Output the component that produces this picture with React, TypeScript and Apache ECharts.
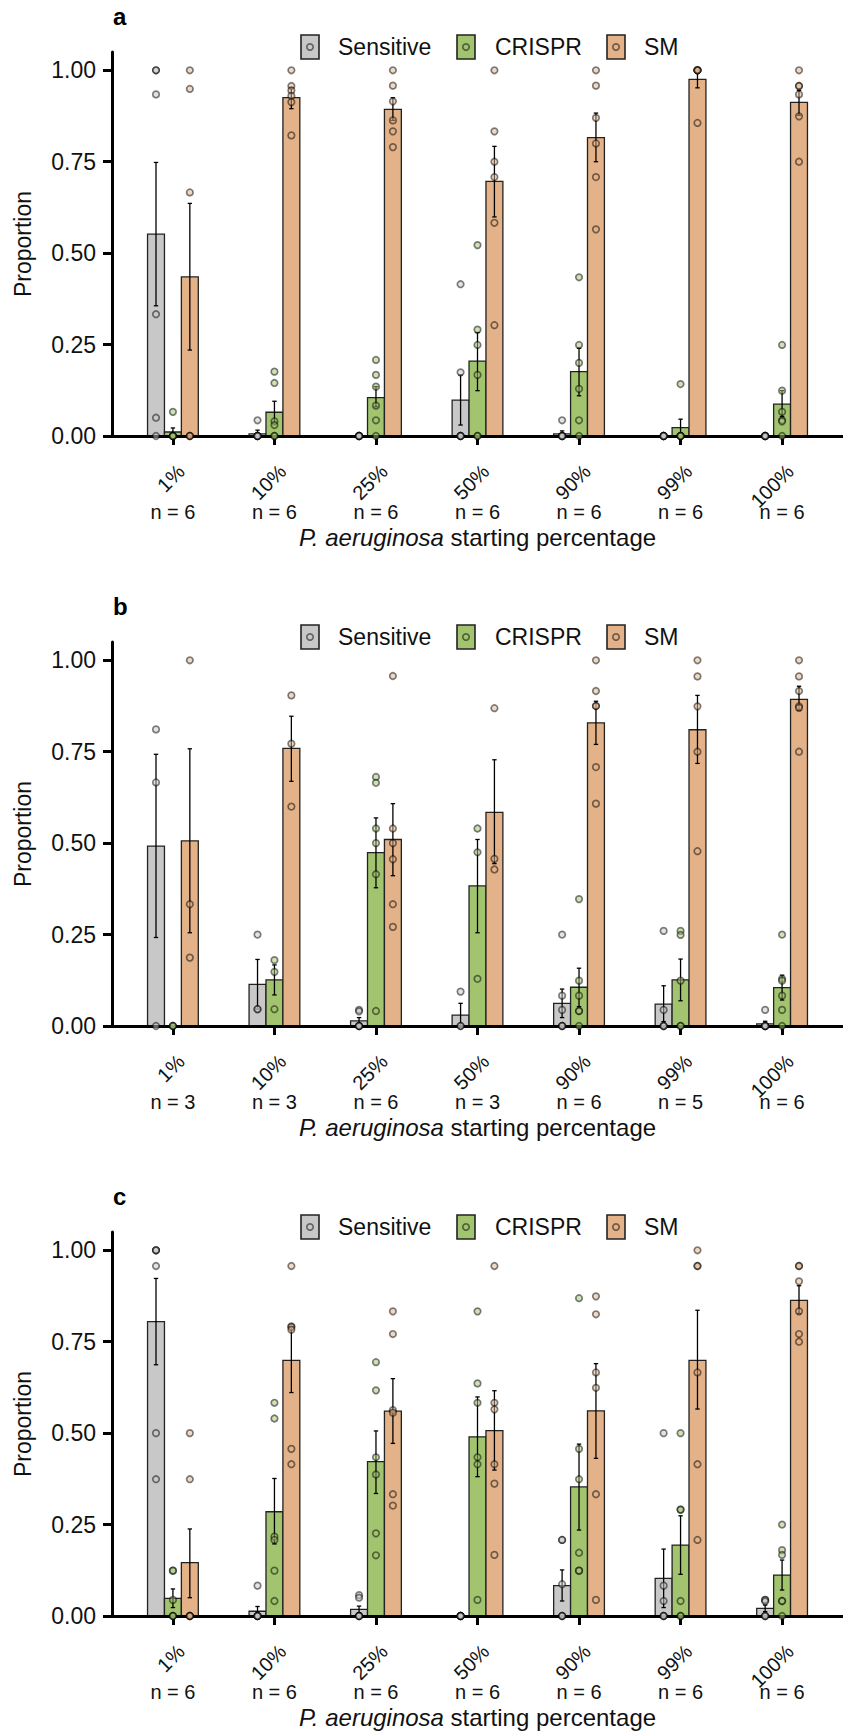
import React, { useEffect, useRef } from 'react';
import * as echarts from 'echarts';

// ---- categories and labels ----
const categories = ['1%', '10%', '25%', '50%', '90%', '99%', '100%'];
const phenotypes = ['Sensitive', 'CRISPR', 'SM'];
const phenotypeColors = ['#C8C8C8', '#A2C46F', '#E3B288'];
const panelLetters = ['a', 'b', 'c'];
const yTickValues = [0, 0.25, 0.5, 0.75, 1];

// ---- panel a ----
const sampleSizeA = [6, 6, 6, 6, 6, 6, 6];
const sensitiveMeanA = [0.552, 0.006, 0, 0.098, 0.006, 0, 0];
const sensitiveLowA = [0.356, 0, 0, 0.03, 0, 0, 0];
const sensitiveHighA = [0.748, 0.016, 0, 0.167, 0.014, 0, 0];
const sensitivePointsA = [
  [1, 1, 0.934, 0.333, 0.05, 0],
  [0.043, 0, 0, 0, 0, 0],
  [0, 0, 0, 0, 0, 0],
  [0.415, 0.174, 0, 0, 0, 0],
  [0.043, 0, 0, 0, 0, 0],
  [0, 0, 0, 0, 0, 0],
  [0, 0, 0, 0, 0, 0],
];
const crisprMeanA = [0.011, 0.065, 0.105, 0.205, 0.176, 0.023, 0.087];
const crisprLowA = [0, 0.035, 0.08, 0.124, 0.11, 0, 0.053];
const crisprHighA = [0.022, 0.095, 0.135, 0.283, 0.24, 0.046, 0.124];
const crisprPointsA = [
  [0.066, 0, 0, 0, 0, 0],
  [0.176, 0.145, 0.04, 0.03, 0, 0],
  [0.208, 0.167, 0.135, 0.083, 0.043, 0],
  [0.522, 0.291, 0.249, 0.167, 0, 0],
  [0.434, 0.249, 0.2, 0.129, 0.043, 0],
  [0.142, 0, 0, 0, 0, 0],
  [0.249, 0.124, 0.066, 0.043, 0.04, 0],
];
const smMeanA = [0.435, 0.925, 0.893, 0.696, 0.816, 0.975, 0.912];
const smLowA = [0.235, 0.895, 0.863, 0.599, 0.75, 0.952, 0.877];
const smHighA = [0.636, 0.952, 0.925, 0.792, 0.883, 0.999, 0.945];
const smPointsA = [
  [1, 0.949, 0.666, 0, 0, 0],
  [1, 0.957, 0.945, 0.93, 0.913, 0.822],
  [1, 0.958, 0.915, 0.863, 0.833, 0.79],
  [1, 0.833, 0.75, 0.708, 0.583, 0.303],
  [1, 0.958, 0.87, 0.8, 0.708, 0.565],
  [1, 1, 1, 1, 1, 0.856],
  [1, 0.957, 0.957, 0.934, 0.874, 0.75],
];

// ---- panel b ----
const sampleSizeB = [3, 3, 6, 3, 6, 5, 6];
const sensitiveMeanB = [0.492, 0.114, 0.014, 0.03, 0.062, 0.06, 0.006];
const sensitiveLowB = [0.242, 0.046, 0.005, 0, 0.023, 0.012, 0];
const sensitiveHighB = [0.743, 0.182, 0.023, 0.062, 0.101, 0.11, 0.013];
const sensitivePointsB = [
  [0.811, 0.666, 0],
  [0.25, 0.046, 0.046],
  [0.044, 0.04, 0, 0, 0, 0],
  [0.094, 0, 0],
  [0.25, 0.083, 0.044, 0, 0, 0],
  [0.26, 0.044, 0, 0, 0],
  [0.044, 0, 0, 0, 0, 0],
];
const crisprMeanB = [0, 0.126, 0.474, 0.383, 0.106, 0.126, 0.105];
const crisprLowB = [0, 0.085, 0.378, 0.255, 0.053, 0.069, 0.071];
const crisprHighB = [0, 0.167, 0.569, 0.51, 0.158, 0.183, 0.139];
const crisprPointsB = [
  [0, 0, 0],
  [0.18, 0.148, 0.046],
  [0.681, 0.665, 0.54, 0.5, 0.415, 0.041],
  [0.54, 0.475, 0.129],
  [0.347, 0.124, 0.083, 0.041, 0.041, 0],
  [0.26, 0.249, 0.124, 0, 0],
  [0.25, 0.129, 0.124, 0.083, 0.044, 0],
];
const smMeanB = [0.506, 0.759, 0.51, 0.584, 0.829, 0.81, 0.893];
const smLowB = [0.255, 0.669, 0.411, 0.444, 0.77, 0.718, 0.863];
const smHighB = [0.758, 0.847, 0.608, 0.728, 0.888, 0.904, 0.929];
const smPointsB = [
  [1, 0.333, 0.187],
  [0.904, 0.772, 0.6],
  [0.957, 0.54, 0.5, 0.456, 0.333, 0.271],
  [0.869, 0.457, 0.428],
  [1, 0.916, 0.875, 0.875, 0.708, 0.608],
  [1, 0.956, 0.874, 0.75, 0.478],
  [1, 0.956, 0.916, 0.874, 0.87, 0.75],
];

// ---- panel c ----
const sampleSizeC = [6, 6, 6, 6, 6, 6, 6];
const sensitiveMeanC = [0.805, 0.013, 0.018, 0, 0.083, 0.103, 0.021];
const sensitiveLowC = [0.687, 0, 0.009, 0, 0.041, 0.023, 0.012];
const sensitiveHighC = [0.923, 0.026, 0.027, 0, 0.126, 0.183, 0.03];
const sensitivePointsC = [
  [1, 1, 1, 0.957, 0.5, 0.374],
  [0.083, 0, 0, 0, 0, 0],
  [0.057, 0.05, 0, 0, 0, 0],
  [0, 0, 0, 0, 0, 0],
  [0.208, 0.208, 0.087, 0, 0, 0],
  [0.5, 0.083, 0.041, 0, 0, 0],
  [0.044, 0.044, 0.04, 0, 0, 0],
];
const crisprMeanC = [0.048, 0.285, 0.422, 0.49, 0.353, 0.194, 0.112];
const crisprLowC = [0.023, 0.197, 0.335, 0.381, 0.235, 0.114, 0.071];
const crisprHighC = [0.074, 0.376, 0.506, 0.599, 0.47, 0.274, 0.153];
const crisprPointsC = [
  [0.124, 0.124, 0.044, 0, 0, 0],
  [0.583, 0.54, 0.217, 0.208, 0.124, 0.041],
  [0.694, 0.617, 0.434, 0.387, 0.226, 0.166],
  [0.833, 0.636, 0.583, 0.434, 0.415, 0.044],
  [0.869, 0.457, 0.374, 0.173, 0.124, 0.124],
  [0.5, 0.291, 0.291, 0.041, 0, 0],
  [0.25, 0.18, 0.167, 0.041, 0.041, 0],
];
const smMeanC = [0.146, 0.699, 0.56, 0.507, 0.561, 0.699, 0.863];
const smLowC = [0.05, 0.611, 0.472, 0.399, 0.431, 0.566, 0.827];
const smHighC = [0.238, 0.79, 0.649, 0.616, 0.69, 0.836, 0.903];
const smPointsC = [
  [0.5, 0.374, 0, 0, 0, 0],
  [0.957, 0.792, 0.79, 0.783, 0.457, 0.415],
  [0.833, 0.771, 0.563, 0.556, 0.333, 0.302],
  [0.957, 0.583, 0.565, 0.415, 0.362, 0.167],
  [0.874, 0.825, 0.666, 0.624, 0.333, 0.044],
  [1, 0.957, 0.957, 0.666, 0.415, 0.208],
  [0.957, 0.957, 0.915, 0.833, 0.771, 0.75],
];

type Group = { mean: number[]; low: number[]; high: number[]; points: number[][] };
type Panel = { n: number[]; groups: Group[] };

const panels: Panel[] = [
  {
    n: sampleSizeA,
    groups: [
      { mean: sensitiveMeanA, low: sensitiveLowA, high: sensitiveHighA, points: sensitivePointsA },
      { mean: crisprMeanA, low: crisprLowA, high: crisprHighA, points: crisprPointsA },
      { mean: smMeanA, low: smLowA, high: smHighA, points: smPointsA },
    ],
  },
  {
    n: sampleSizeB,
    groups: [
      { mean: sensitiveMeanB, low: sensitiveLowB, high: sensitiveHighB, points: sensitivePointsB },
      { mean: crisprMeanB, low: crisprLowB, high: crisprHighB, points: crisprPointsB },
      { mean: smMeanB, low: smLowB, high: smHighB, points: smPointsB },
    ],
  },
  {
    n: sampleSizeC,
    groups: [
      { mean: sensitiveMeanC, low: sensitiveLowC, high: sensitiveHighC, points: sensitivePointsC },
      { mean: crisprMeanC, low: crisprLowC, high: crisprHighC, points: crisprPointsC },
      { mean: smMeanC, low: smLowC, high: smHighC, points: smPointsC },
    ],
  },
];

// ---- layout ----
const FONT = '"Liberation Sans", Arial, Helvetica, sans-serif';
const TEXT = '#111111';
const PANEL_STEP = 590;
const GRID_LEFT = 112;
const GRID_TOP = 52;
const GRID_W = 738;
const GRID_H = 384;
const X_MIN = 0.4;
const X_MAX = 7.6;
const LABEL_SHIFT = 0.08; // rotated labels sit slightly right of their tick
const BAR_W = 1 / 6; // dodged bar width in category units
const dodge = [-1 / 6, 0, 1 / 6];
const xPositions = categories.map((_, i) => i + 1);
const legendKeyX = [301, 457, 607];
const legendTextX = [338, 495, 644];
const AXES_PER_PANEL = 3;

function buildOption() {
  const grid: any[] = [];
  const xAxis: any[] = [];
  const yAxis: any[] = [];
  const series: any[] = [];
  const graphic: any[] = [];

  panels.forEach((panel, p) => {
    const top = GRID_TOP + PANEL_STEP * p;
    grid.push({ left: GRID_LEFT, top, width: GRID_W, height: GRID_H });

    // main x axis: line, ticks and title
    xAxis.push({
      type: 'value',
      gridIndex: p,
      min: X_MIN,
      max: X_MAX,
      position: 'bottom',
      z: 5,
      axisLine: { show: true, onZero: false, lineStyle: { color: '#000', width: 3 } },
      axisTick: { show: true, length: 9, customValues: xPositions, lineStyle: { color: '#000', width: 3 } },
      axisLabel: { show: false },
      splitLine: { show: false },
      name: '{i|P. aeruginosa} starting percentage',
      nameLocation: 'middle',
      nameGap: 89,
      nameTextStyle: {
        fontSize: 24,
        color: TEXT,
        fontFamily: FONT,
        rich: { i: { fontStyle: 'italic', fontSize: 24, color: TEXT, fontFamily: FONT } },
      },
    });
    // rotated category labels
    xAxis.push({
      type: 'value',
      gridIndex: p,
      min: X_MIN - LABEL_SHIFT,
      max: X_MAX - LABEL_SHIFT,
      position: 'bottom',
      axisLine: { show: false },
      axisTick: { show: false },
      splitLine: { show: false },
      axisLabel: {
        customValues: xPositions,
        rotate: 45,
        align: 'right',
        verticalAlign: 'middle',
        margin: 32,
        fontSize: 20,
        color: TEXT,
        fontFamily: FONT,
        formatter: (v: number) => categories[Math.round(v) - 1] ?? '',
      },
    });
    // sample sizes under each group
    xAxis.push({
      type: 'value',
      gridIndex: p,
      min: X_MIN,
      max: X_MAX,
      position: 'bottom',
      axisLine: { show: false },
      axisTick: { show: false },
      splitLine: { show: false },
      axisLabel: {
        customValues: xPositions,
        margin: 66,
        fontSize: 20,
        color: TEXT,
        fontFamily: FONT,
        formatter: (v: number) => 'n = ' + panel.n[Math.round(v) - 1],
      },
    });

    yAxis.push({
      type: 'value',
      gridIndex: p,
      min: 0,
      max: 1.05,
      z: 5,
      axisLine: { show: true, lineStyle: { color: '#000', width: 3 } },
      axisTick: { show: true, length: 9, customValues: yTickValues, lineStyle: { color: '#000', width: 3 } },
      axisLabel: {
        customValues: yTickValues,
        margin: 16,
        fontSize: 23,
        color: TEXT,
        fontFamily: FONT,
        formatter: (v: number) => v.toFixed(2),
      },
      splitLine: { show: false },
      name: 'Proportion',
      nameLocation: 'middle',
      nameGap: 78,
      nameTextStyle: { fontSize: 23, color: TEXT, fontFamily: FONT },
    });

    const xi = AXES_PER_PANEL * p;
    panel.groups.forEach((g, k) => {
      const color = phenotypeColors[k];
      const off = dodge[k];
      series.push({
        type: 'custom',
        name: phenotypes[k],
        coordinateSystem: 'cartesian2d',
        xAxisIndex: xi,
        yAxisIndex: p,
        z: 2,
        encode: { x: 0, y: 1 },
        data: g.mean.map((m, i) => [xPositions[i], m]),
        renderItem: (_params: any, api: any) => {
          const x = api.value(0) + off;
          const v = api.value(1);
          const tl = api.coord([x - BAR_W / 2, v]);
          const br = api.coord([x + BAR_W / 2, 0]);
          return {
            type: 'rect',
            shape: { x: tl[0], y: tl[1], width: br[0] - tl[0], height: br[1] - tl[1] },
            style: { fill: color, stroke: '#222', lineWidth: 1.3 },
          };
        },
      });
      series.push({
        type: 'custom',
        name: phenotypes[k] + ' SE',
        coordinateSystem: 'cartesian2d',
        xAxisIndex: xi,
        yAxisIndex: p,
        z: 3,
        encode: { x: 0, y: [1, 2] },
        data: g.mean
          .map((_, i) => [xPositions[i], g.low[i], g.high[i]])
          .filter((d) => d[2] > d[1]),
        renderItem: (_params: any, api: any) => {
          const x = api.value(0) + off;
          const lo = api.coord([x, api.value(1)]);
          const hi = api.coord([x, api.value(2)]);
          const cap = 2.2;
          const st = { stroke: '#000', lineWidth: 1.3 };
          return {
            type: 'group',
            children: [
              { type: 'line', shape: { x1: lo[0], y1: lo[1], x2: hi[0], y2: hi[1] }, style: st },
              { type: 'line', shape: { x1: hi[0] - cap, y1: hi[1], x2: hi[0] + cap, y2: hi[1] }, style: st },
              { type: 'line', shape: { x1: lo[0] - cap, y1: lo[1], x2: lo[0] + cap, y2: lo[1] }, style: st },
            ],
          };
        },
      });
      const pts: number[][] = [];
      g.points.forEach((vals, i) => vals.forEach((v) => pts.push([xPositions[i] + off, v])));
      series.push({
        type: 'scatter',
        name: phenotypes[k] + ' replicates',
        xAxisIndex: xi,
        yAxisIndex: p,
        z: 6,
        symbol: 'circle',
        symbolSize: 6.5,
        data: pts,
        itemStyle: { color, borderColor: '#000', borderWidth: 1.7, opacity: 0.5 },
      });
    });

    // panel letter
    graphic.push({
      type: 'text',
      left: 113,
      top: 4 + PANEL_STEP * p,
      style: { text: panelLetters[p], fontSize: 24, fontWeight: 'bold', fill: '#000', fontFamily: FONT },
    });

    // legend keys
    const ly = 47 + PANEL_STEP * p;
    phenotypes.forEach((name, k) => {
      graphic.push({
        type: 'rect',
        shape: { x: legendKeyX[k], y: ly - 12, width: 18, height: 24 },
        style: { fill: phenotypeColors[k], stroke: '#222', lineWidth: 1.6 },
        z: 10,
      });
      graphic.push({
        type: 'circle',
        shape: { cx: legendKeyX[k] + 9, cy: ly, r: 3.2 },
        style: { fill: phenotypeColors[k], stroke: '#000', lineWidth: 1.7, opacity: 0.5 },
        z: 11,
      });
      graphic.push({
        type: 'text',
        x: legendTextX[k],
        y: ly,
        style: {
          text: name,
          fontSize: 23,
          fill: TEXT,
          fontFamily: FONT,
          verticalAlign: 'middle',
          align: 'left',
        },
        z: 10,
      });
    });
  });

  return {
    animation: false,
    backgroundColor: '#ffffff',
    textStyle: { fontFamily: FONT },
    grid,
    xAxis,
    yAxis,
    series,
    graphic,
  };
}

export default function App() {
  const ref = useRef<HTMLDivElement>(null);
  useEffect(() => {
    if (!ref.current) return;
    const chart = echarts.init(ref.current, undefined, { renderer: 'svg' });
    chart.setOption(buildOption() as any);
    return () => chart.dispose();
  }, []);
  return (
    <div
      ref={ref}
      style={{ position: 'absolute', left: 0, top: 0, width: 843, height: 1731, background: '#fff' }}
    />
  );
}
